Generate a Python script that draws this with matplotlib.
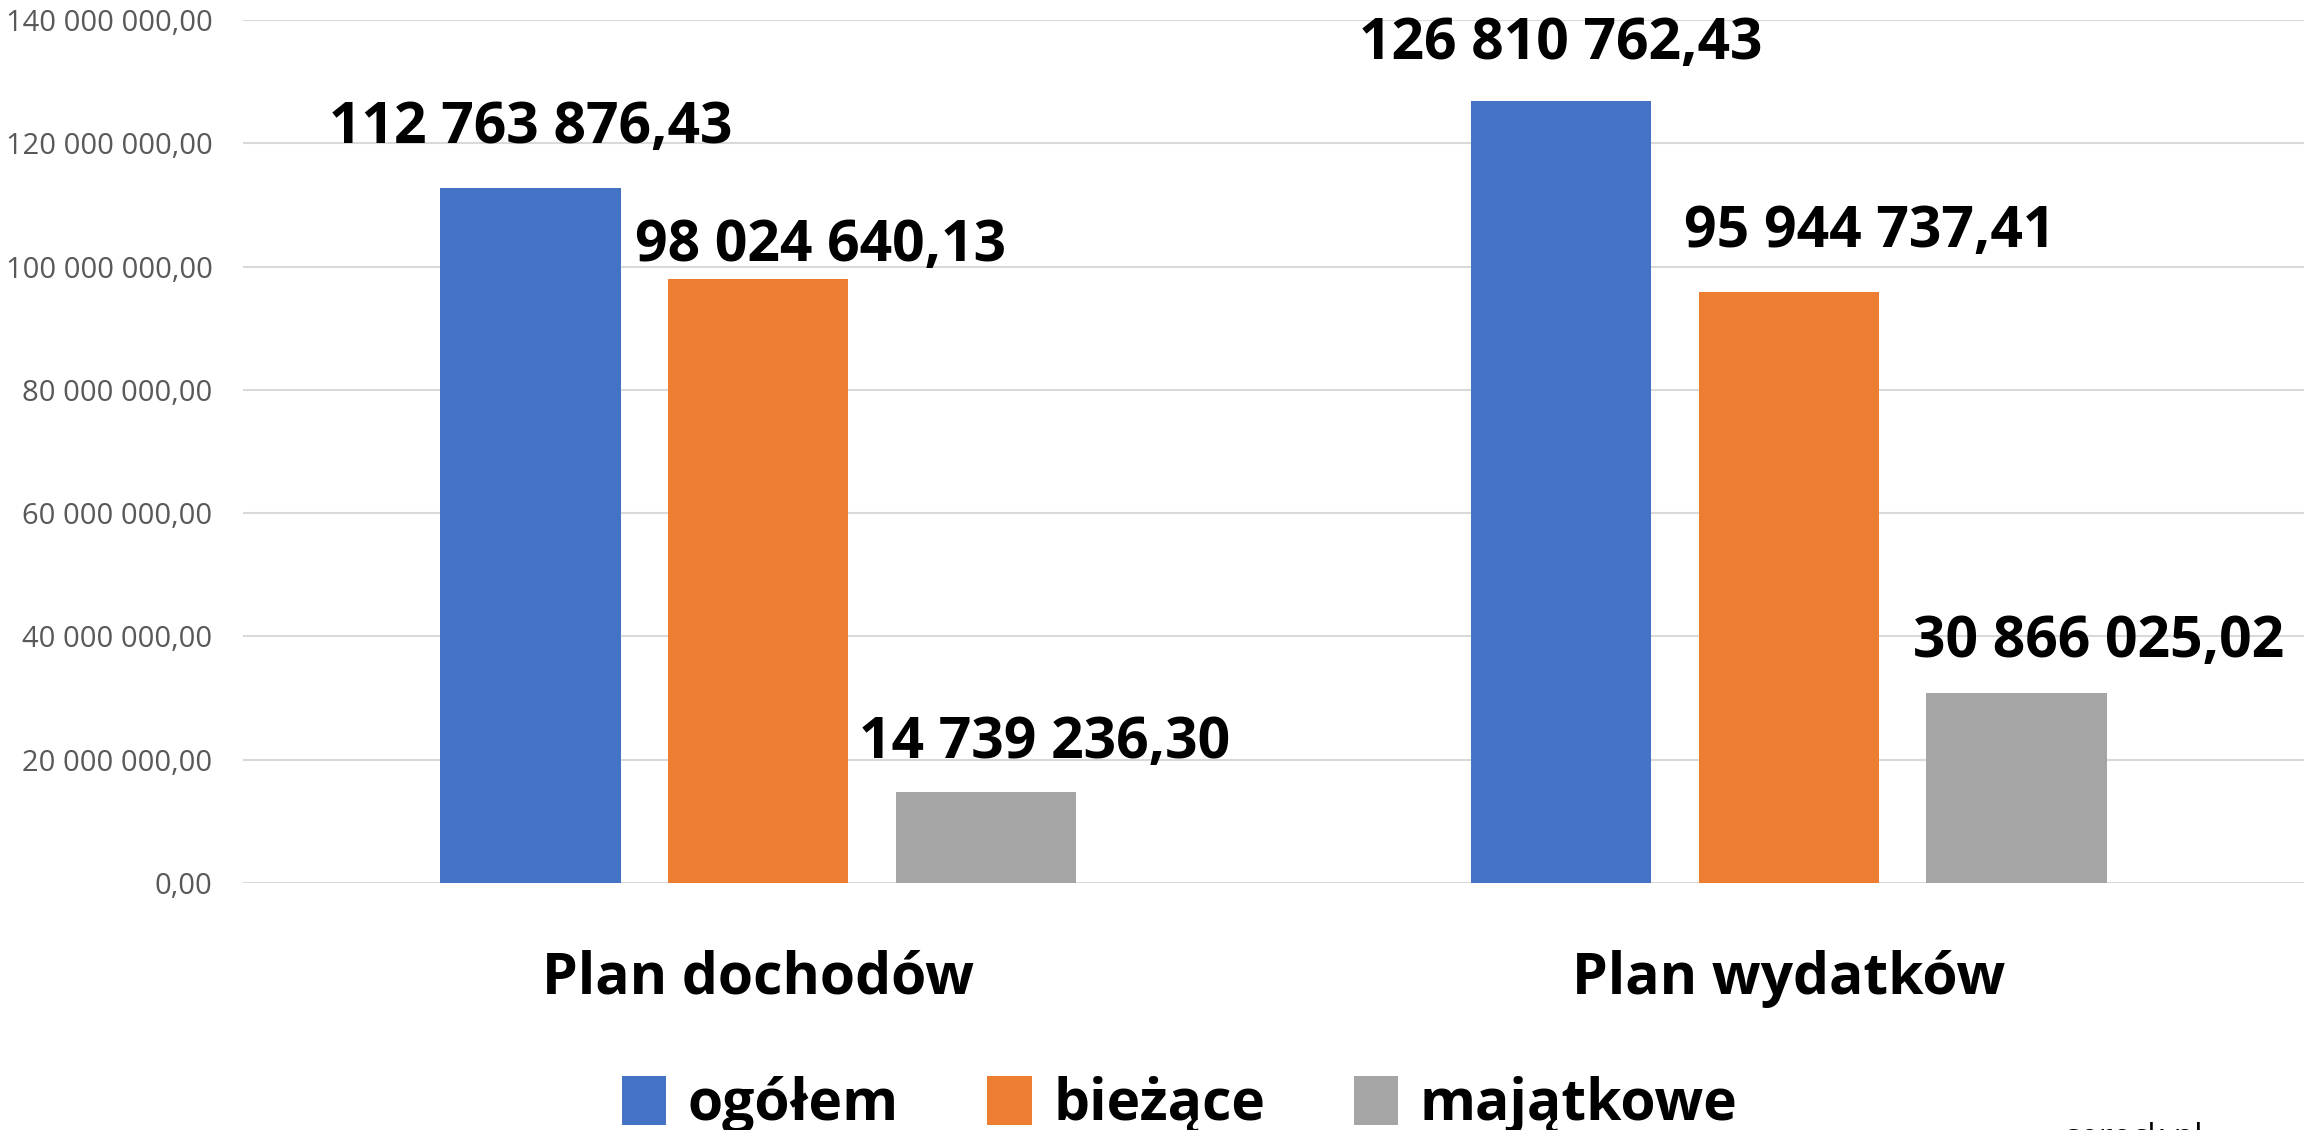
import matplotlib
matplotlib.use("Agg")
import matplotlib.pyplot as plt
from matplotlib.patches import Patch
import numpy as np

categories = ["Plan dochodów", "Plan wydatków"]
series_names = ["ogółem", "bieżące", "majątkowe"]
ogolem = [112763876.43, 126810762.43]
biezace = [98024640.13, 95944737.41]
majatkowe = [14739236.30, 30866025.02]
yticks = [0, 20e6, 40e6, 60e6, 80e6, 100e6, 120e6, 140e6]

colors = ["#4472C4", "#ED7D31", "#A5A5A5"]
# label placement offsets in pixels (dx, gap above bar top)
label_offsets = [[(0, 45), (0, 42)], [(62, 18), (81, 45)], [(59, 34), (82, 36)]]

def fmt(v):
    s = f"{v:,.2f}"
    return s.replace(",", " ").replace(".", ",")

plt.rcParams['font.family'] = ['Open Sans', 'DejaVu Sans']

W, H = 2304, 1130
fig = plt.figure(figsize=(W / 100, H / 100), dpi=100)
ax = fig.add_axes([243 / W, 1 - 883 / H, 1 - 243 / W, (883 - 20) / H])

x = np.arange(len(categories))
width = 0.175
step = 0.221
series = [ogolem, biezace, majatkowe]
for i, (vals, c, name) in enumerate(zip(series, colors, series_names)):
    pos = x + (i - 1) * step
    bars = ax.bar(pos, vals, width=width, color=c, label=name, zorder=3)
    for j, (b, v) in enumerate(zip(bars, vals)):
        dx, dy = label_offsets[i][j]
        ax.annotate(fmt(v), xy=(b.get_x() + b.get_width() / 2, v),
                    xytext=(dx * 0.72, dy * 0.72), textcoords="offset points",
                    ha="center", va="baseline", fontsize=41, fontweight="bold",
                    color="black", annotation_clip=False, zorder=5)

ax.set_xlim(-0.5, 1.5)
ax.set_ylim(0, 140e6)
ax.set_yticks(yticks)
ax.set_yticklabels([fmt(v) for v in yticks], fontsize=21, color="#595959")
ax.set_xticks(x)
ax.set_xticklabels(categories, fontsize=41, fontweight="bold", color="black")
ax.tick_params(axis="both", length=0)
ax.tick_params(axis="y", pad=22)
ax.tick_params(axis="x", pad=48)
ax.grid(axis="y", color="#D9D9D9", linewidth=1.5, zorder=0)
for s in ax.spines.values():
    s.set_visible(False)

handles = [Patch(facecolor=c, edgecolor="none") for c in colors]
fig.legend(handles, series_names, loc="center", bbox_to_anchor=(0.512, 0.022),
           ncol=3, frameon=False, prop={"size": 41, "weight": "bold"},
           handlelength=0.78, handleheight=0.95, handletextpad=0.38,
           columnspacing=1.55, borderaxespad=0)

fig.text(2064 / W, 1 - 1122 / H, "sereck.pl", fontsize=24, color="black",
         ha="left", va="top")

fig.savefig("out.png", dpi=100)
